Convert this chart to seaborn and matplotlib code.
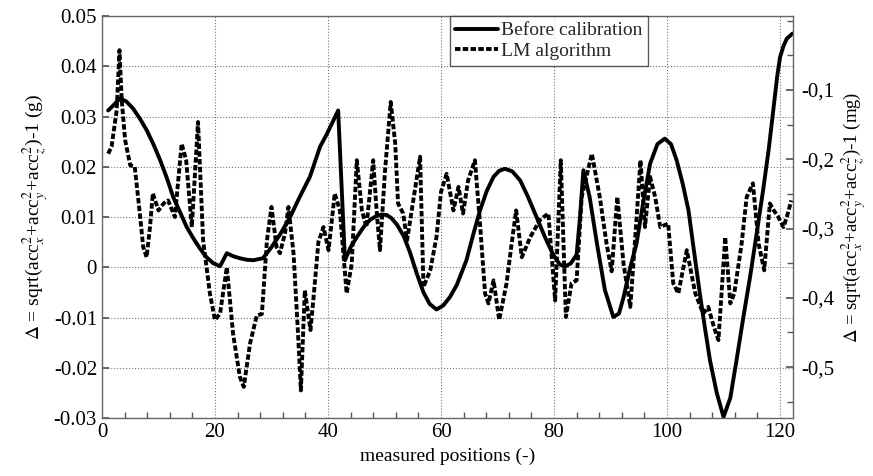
import numpy as np
import pandas as pd
import matplotlib
matplotlib.use("Agg")
import matplotlib.pyplot as plt
from matplotlib.ticker import MultipleLocator, FixedLocator
import seaborn as sns

# Before calibration (smooth curve)
before_x = [1.1, 2.0, 3.2, 4.3, 5.5, 6.7, 7.9, 9.1, 10.3, 11.5, 12.6, 13.8, 15.0, 16.2,
            17.3, 18.5, 19.7, 20.9, 22.1, 23.2, 24.4, 25.6, 26.8, 28.5, 30.0, 31.5,
            33.3, 35.0, 36.8, 38.6, 39.8, 41.8, 43.0, 44.0, 45.1, 46.3, 47.4, 48.4,
            49.5, 50.4, 51.2, 52.2, 53.4, 54.5, 55.7, 56.9, 58.0, 59.2, 60.4, 61.6,
            62.8, 64.5, 65.7, 66.9, 68.1, 69.3, 70.3, 71.3, 72.6, 74.0, 75.4, 76.9,
            78.4, 79.9, 81.0, 81.9, 83.0, 84.0, 84.6, 85.2, 86.3, 87.6, 89.0, 90.5,
            91.5, 92.3, 93.5, 94.6, 95.8, 97.0, 98.3, 99.6, 100.7, 101.7, 102.8,
            103.8, 104.8, 105.8, 106.7, 107.6, 108.8, 110.0, 111.2, 112.3, 113.5,
            114.7, 115.9, 117.0, 118.0, 118.8, 119.5, 120.0, 120.6, 121.2, 122.2]
before_y = [0.0312, 0.0322, 0.0336, 0.0330, 0.0316, 0.0296, 0.0273, 0.0245, 0.0213,
            0.0177, 0.0140, 0.0110, 0.0080, 0.0057, 0.0038, 0.0020, 0.0008, 0.0002,
            0.0028, 0.0022, 0.0018, 0.0015, 0.0014, 0.0018, 0.0040, 0.0065, 0.0100,
            0.0140, 0.0180, 0.0240, 0.0265, 0.0312, 0.0014, 0.0040, 0.0060, 0.0080,
            0.0094, 0.0101, 0.0105, 0.0104, 0.0098, 0.0085, 0.0062, 0.0030, -0.0012,
            -0.0050, -0.0073, -0.0084, -0.0076, -0.0059, -0.0035, 0.0014, 0.0065,
            0.0113, 0.0152, 0.0180, 0.0192, 0.0196, 0.0191, 0.0173, 0.0140, 0.0100,
            0.0060, 0.0024, 0.0006, 0.0001, 0.0008, 0.0025, 0.0100, 0.0193, 0.0140,
            0.0047, -0.0045, -0.0099, -0.0092, -0.0060, 0.0000, 0.0047, 0.0130,
            0.0206, 0.0245, 0.0256, 0.0245, 0.0213, 0.0165, 0.0113, 0.0030, -0.0052,
            -0.0120, -0.0185, -0.0250, -0.0298, -0.0260, -0.0185, -0.0100, -0.0019,
            0.0070, 0.0153, 0.0235, 0.0312, 0.0380, 0.0418, 0.0440, 0.0455, 0.0465]

# LM algorithm (dashed, jagged)
lm_x = [1.1, 1.7, 2.6, 3.1, 3.5, 4.1, 5.0, 5.8, 6.7, 7.3, 7.9, 8.5, 9.0, 10.0, 10.9,
        11.7, 12.9, 14.1, 14.9, 15.9, 17.0, 17.9, 19.1, 20.0, 20.9, 22.1, 23.2, 24.4,
        25.1, 26.2, 27.4, 28.3, 29.2, 30.0, 30.9, 31.5, 32.4, 33.0, 33.9, 34.7, 35.2,
        35.9, 36.9, 37.4, 38.3, 39.2, 40.1, 41.2, 42.1, 43.3, 44.2, 45.1, 46.0, 46.8,
        48.0, 48.6, 49.2, 50.1, 51.1, 51.9, 52.4, 53.3, 54.0, 55.1, 56.3, 56.9, 58.1,
        59.2, 60.0, 61.0, 62.2, 63.1, 63.9, 64.8, 66.0, 66.9, 67.8, 68.4, 69.3, 70.3,
        71.6, 72.5, 73.3, 74.3, 75.8, 77.5, 79.0, 80.2, 81.2, 82.1, 83.1, 84.0, 84.9,
        86.7, 88.1, 89.3, 90.2, 91.2, 92.3, 93.5, 94.3, 95.3, 96.1, 97.0, 97.9, 98.8,
        100.2, 101.1, 102.0, 103.5, 105.0, 106.4, 107.3, 108.3, 109.1, 110.3, 111.2,
        111.9, 113.2, 114.1, 115.2, 116.2, 117.2, 118.2, 118.9, 119.7, 120.6, 121.2,
        122.0]
lm_y = [0.0226, 0.0240, 0.0312, 0.0432, 0.0332, 0.0253, 0.0203, 0.0200, 0.0107,
        0.0040, 0.0020, 0.0080, 0.0147, 0.0113, 0.0127, 0.0133, 0.0100, 0.0246,
        0.0213, 0.0080, 0.0289, 0.0054, -0.0052, -0.0105, -0.0092, 0.0000, -0.0132,
        -0.0218, -0.0238, -0.0152, -0.0096, -0.0093, 0.0054, 0.0120, 0.0040, 0.0028,
        0.0068, 0.0120, 0.0028, -0.0132, -0.0245, -0.0046, -0.0125, -0.0066, 0.0050,
        0.0080, 0.0034, 0.0147, 0.0113, -0.0052, 0.0007, 0.0213, 0.0113, 0.0080,
        0.0213, 0.0113, 0.0034, 0.0193, 0.0329, 0.0246, 0.0127, 0.0107, 0.0054,
        0.0133, 0.0220, -0.0039, -0.0006, 0.0060, 0.0150, 0.0186, 0.0113, 0.0160,
        0.0107, 0.0173, 0.0213, 0.0087, -0.0052, -0.0072, -0.0026, -0.0105, -0.0032,
        0.0047, 0.0113, 0.0020, 0.0060, 0.0094, 0.0107, -0.0066, 0.0213, -0.0099,
        -0.0032, -0.0026, 0.0140, 0.0226, 0.0140, 0.0047, -0.0008, 0.0140, 0.0007,
        -0.0079, 0.0047, 0.0213, 0.0080, 0.0180, 0.0140, 0.0080, 0.0087, -0.0032,
        -0.0052, 0.0034, -0.0052, -0.0092, -0.0079, -0.0119, -0.0145, 0.0060,
        -0.0072, -0.0052, 0.0047, 0.0140, 0.0167, 0.0047, -0.0006, 0.0127, 0.0113,
        0.0100, 0.0080, 0.0100, 0.0133]

left_ticks = [-0.03, -0.02, -0.01, 0.0, 0.01, 0.02, 0.03, 0.04, 0.05]
left_labels = ["-0.03", "-0.02", "-0.01", "0", "0.01", "0.02", "0.03", "0.04", "0.05"]
right_ticks = [-0.5, -0.4, -0.3, -0.2, -0.1]
right_labels = ["-0,5", "-0,4", "-0,3", "-0,2", "-0,1"]

sns.set_theme(style="white")
plt.rcParams['font.family'] = ['Liberation Serif', 'DejaVu Serif']
plt.rcParams['mathtext.fontset'] = 'stix'

fig = plt.figure(figsize=(8.73, 4.76), dpi=100)
ax = fig.add_axes([0.1168, 0.1218, 0.7916, 0.8446])

sns.lineplot(x=before_x, y=before_y, ax=ax, color='black', linewidth=2.8,
             label='Before calibration')
sns.lineplot(x=lm_x, y=lm_y, ax=ax, color='black', linewidth=2.8,
             linestyle=(0, (1.4, 0.6)), label='LM algorithm')

ax.set_xlim(0, 122.3)
ax.set_ylim(-0.03, 0.05)
ax.xaxis.set_major_locator(MultipleLocator(20))
ax.xaxis.set_minor_locator(MultipleLocator(4))
ax.set_yticks(left_ticks)
ax.set_yticklabels(left_labels)
ax.grid(True, which='major', linestyle=':', color='#777777', linewidth=0.8)
ax.tick_params(axis='both', which='both', direction='in', labelsize=15,
               colors='#555555', labelcolor='black')
ax.tick_params(which='major', length=5)
ax.tick_params(which='minor', length=4, bottom=True)
for s in ax.spines.values():
    s.set_color('#666666')
    s.set_linewidth(1.0)

ax.set_xlabel('measured positions (-)', fontsize=14, color='black', labelpad=4)
ax.set_ylabel(r'$\Delta$ = sqrt(acc$_x^2$+acc$_y^2$+acc$_z^2$)-1 (g)', fontsize=14,
              color='black', labelpad=2)

leg = ax.legend(loc='upper left', bbox_to_anchor=(0.503, 1.0), borderaxespad=0,
                fontsize=14, frameon=True, fancybox=False, handlelength=2.2,
                handletextpad=0.15, borderpad=0.3, labelspacing=0.15)
leg.get_frame().set_edgecolor('#333333')
leg.get_frame().set_linewidth(1.0)

ax2 = ax.twinx()
ax2.set_ylim(-0.5736, 0.0069)
ax2.yaxis.set_major_locator(FixedLocator(right_ticks))
ax2.set_yticklabels(right_labels)
ax2.yaxis.set_minor_locator(MultipleLocator(0.05))
ax2.tick_params(axis='y', which='both', direction='in', labelsize=15,
                colors='#555555', labelcolor='black', pad=6)
ax2.tick_params(which='major', length=5)
ax2.tick_params(which='minor', length=4, right=True)
for s in ax2.spines.values():
    s.set_visible(False)
ax2.set_ylabel(r'$\Delta$ = sqrt(acc$_x^2$+acc$_y^2$+acc$_z^2$)-1 (mg)', fontsize=13.5,
               color='black', labelpad=3)

fig.savefig('out.png', dpi=100)
